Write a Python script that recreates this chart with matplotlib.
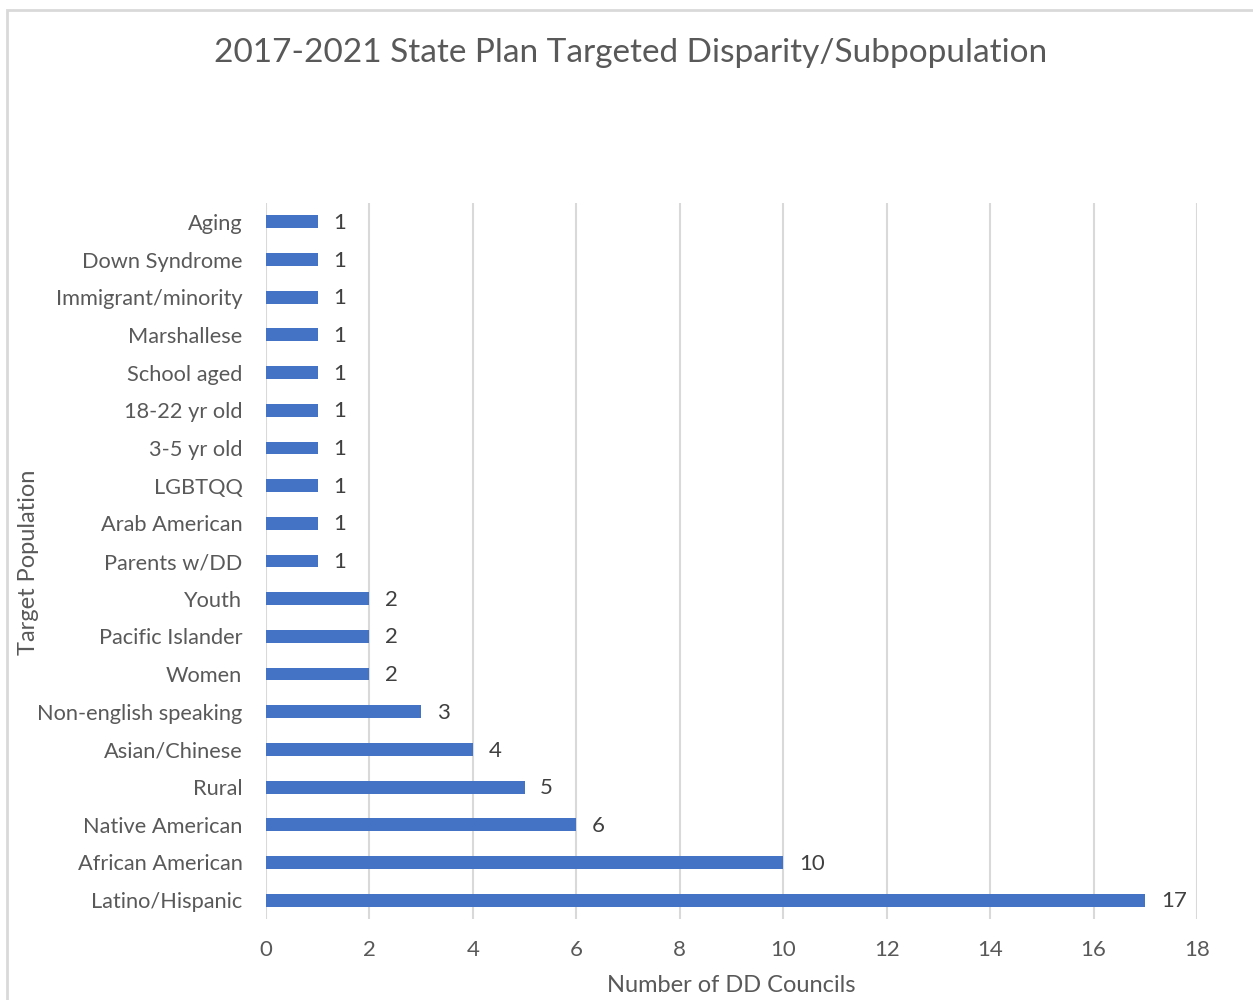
import matplotlib.pyplot as plt
from matplotlib.patches import Rectangle

plt.rcParams['font.family'] = ['Lato', 'DejaVu Sans']

categories = ['Aging', 'Down Syndrome', 'Immigrant/minority', 'Marshallese',
              'School aged', '18-22 yr old', '3-5 yr old', 'LGBTQQ',
              'Arab American', 'Parents w/DD', 'Youth', 'Pacific Islander',
              'Women', 'Non-english speaking', 'Asian/Chinese', 'Rural',
              'Native American', 'African American', 'Latino/Hispanic']
councils = [1, 1, 1, 1, 1, 1, 1, 1, 1, 1, 2, 2, 2, 3, 4, 5, 6, 10, 17]
xticks = [0, 2, 4, 6, 8, 10, 12, 14, 16, 18]

bar_col = '#4472C4'
txt_col = '#595959'
grid_col = '#D9D9D9'

fig = plt.figure(figsize=(12.53, 10), dpi=100)
fig.patches.append(Rectangle((7 / 1253, -0.01), 1.02, 0.99 - (-0.01),
                             transform=fig.transFigure, fill=False,
                             edgecolor='#D9D9D9', linewidth=2))

ax = fig.add_axes([266 / 1253, 0.081, (1197 - 266) / 1253, 0.716])
pos = list(range(len(categories)))
ax.barh(pos, councils, height=0.34, color=bar_col, zorder=3)
for p, v in zip(pos, councils):
    ax.text(v + 0.3, p + 0.03, str(v), va='center', ha='left', fontsize=16,
            color='#404040')

ax.set_ylim(len(categories) - 0.5, -0.5)
ax.set_xlim(0, 18)
ax.set_yticks(pos)
ax.set_yticklabels(categories, fontsize=15.7, color=txt_col)
ax.set_xticks(xticks)
ax.set_xticklabels([str(t) for t in xticks], fontsize=16, color=txt_col)
ax.tick_params(axis='both', length=0)
ax.tick_params(axis='y', pad=17)
ax.tick_params(axis='x', pad=15)
ax.grid(axis='x', color=grid_col, linewidth=1.5, zorder=0)
for s in ax.spines.values():
    s.set_visible(False)

fig.text(731 / 1253, 1 - 985 / 1000, 'Number of DD Councils', ha='center',
         va='center', fontsize=17, color=txt_col)
fig.text(29 / 1253, 1 - 562 / 1000, 'Target Population', ha='center',
         va='center', rotation=90, fontsize=17, color=txt_col)
fig.text(631 / 1253, 1 - 53 / 1000,
         '2017-2021 State Plan Targeted Disparity/Subpopulation',
         ha='center', va='center', fontsize=24, color=txt_col)

plt.savefig('out.png', dpi=100)
